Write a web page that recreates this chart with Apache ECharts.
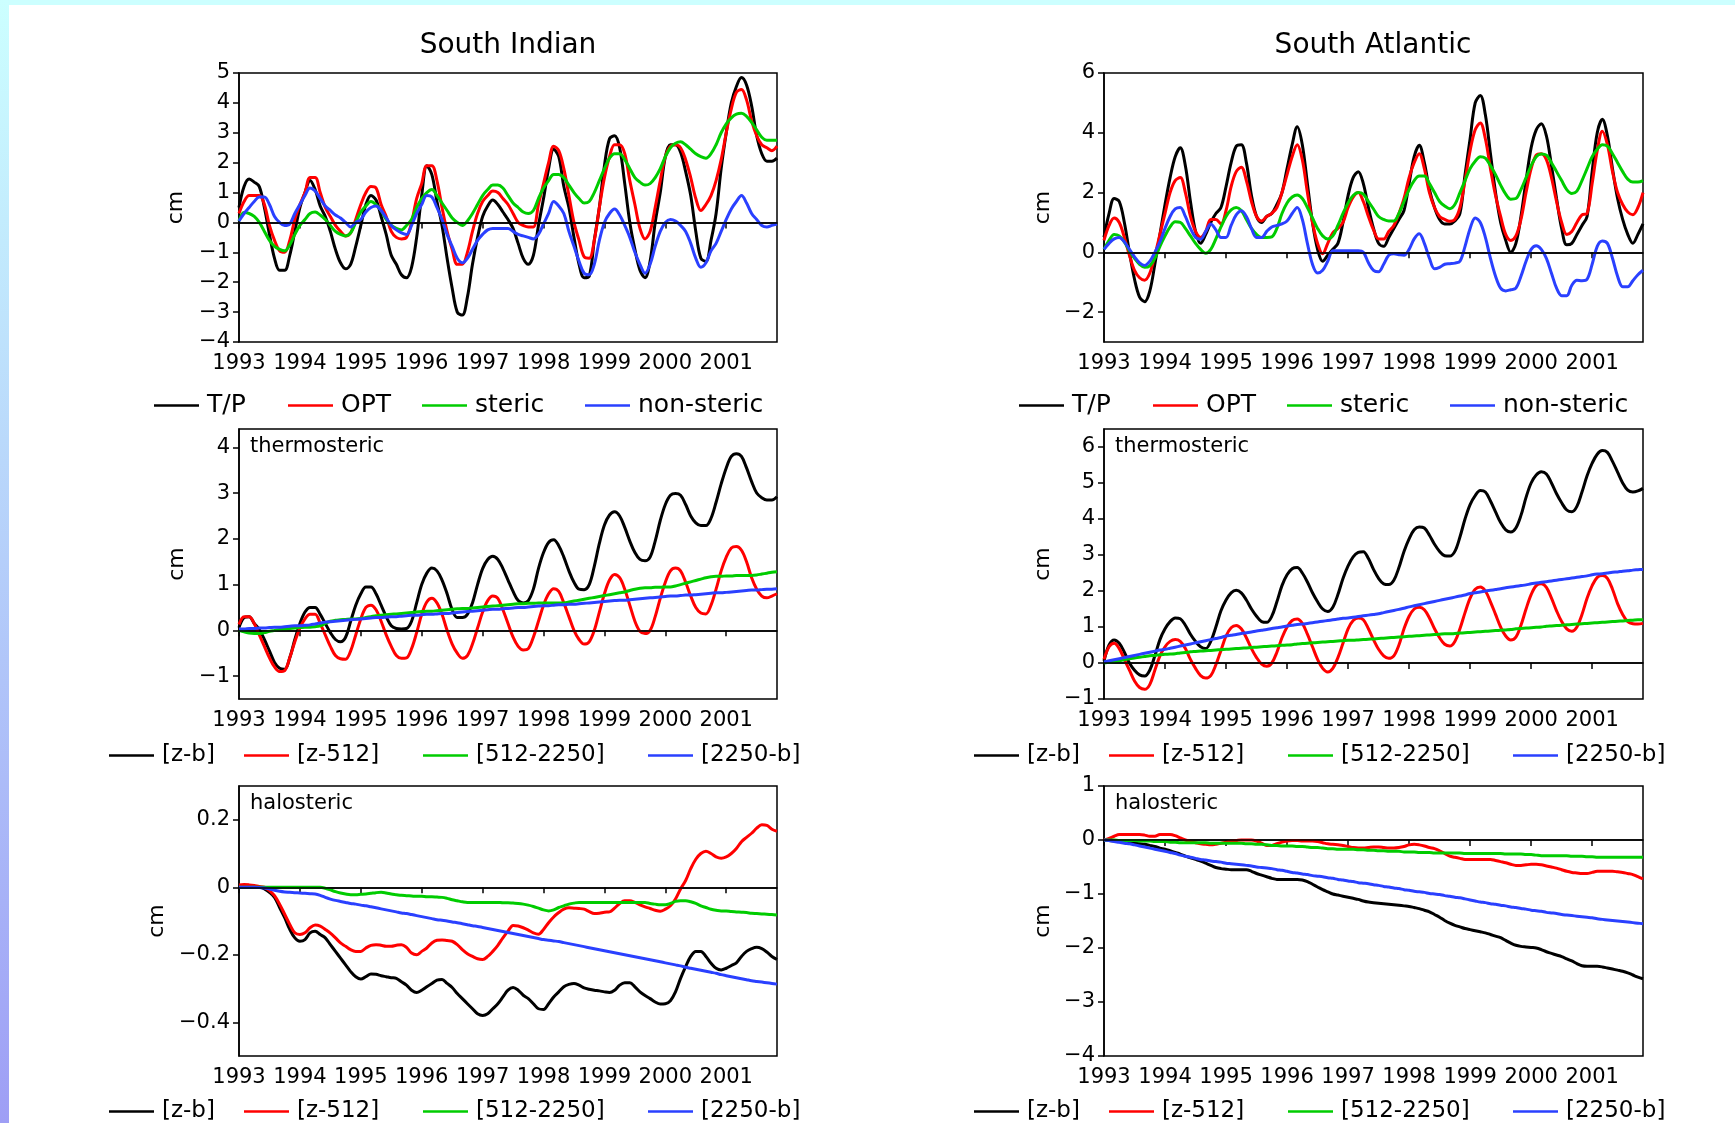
<!DOCTYPE html>
<html>
<head>
<meta charset="utf-8">
<script src="https://cdn.jsdelivr.net/npm/echarts@6/dist/echarts.min.js"></script>
<style>
  html, body { margin: 0; padding: 0; background: #fff; }
  #chart { width: 1735px; height: 1123px; }
</style>
</head>
<body>
<div id="chart"></div>
<script>
// monthly samples, Jan 1993 .. Nov 2001 (107 values, one row per year)
const years = [1993, 1994, 1995, 1996, 1997, 1998, 1999, 2000, 2001];
const months = Array.from({ length: 107 }, (_, i) => 1993 + i / 12);

const topNames = ['T/P', 'OPT', 'steric', 'non-steric'];
const layerNames = ['[z-b]', '[z-512]', '[512-2250]', '[2250-b]'];

// South Indian, sea level
const siTP = [
  0.5, 1.2, 1.45, 1.35, 1.2, 0.5, -0.4, -1.2, -1.6, -1.6, -1.1, -0.3,
  0.5, 1.0, 1.4, 1.1, 0.55, 0.2, -0.3, -0.9, -1.35, -1.55, -1.4, -0.8,
  -0.1, 0.6, 0.9, 0.75, 0.2, -0.4, -1.1, -1.4, -1.75, -1.85, -1.5, -0.5,
  0.9, 1.9, 1.6, 0.7, -0.1, -1.2, -2.2, -3.0, -3.1, -2.5, -1.4, -0.5,
  0.2, 0.55, 0.75, 0.6, 0.35, 0.1, -0.2, -0.7, -1.2, -1.4, -1.1, -0.1,
  0.8, 1.8, 2.45, 2.2, 1.2, 0.5, -0.5, -1.4, -1.85, -1.8, -0.6, 0.5,
  1.9, 2.8, 2.9, 2.5, 1.3, 0.0, -0.9, -1.6, -1.85, -1.3, 0.0, 1.0,
  2.2, 2.6, 2.6, 2.35, 1.7, 0.9, -0.3, -1.2, -1.3, -0.6, 0.3, 1.8,
  3.0, 4.0, 4.55, 4.85, 4.6, 3.9, 2.9, 2.3, 2.05, 2.05, 2.15
];
const siOPT = [
  0.3, 0.7, 0.9, 0.9, 0.9, 0.6, -0.1, -0.6, -0.95, -1.0, -0.6, 0.1,
  0.6, 1.0, 1.5, 1.5, 1.0, 0.5, 0.2, -0.1, -0.3, -0.45, -0.35, 0.1,
  0.6, 1.0, 1.2, 1.15, 0.6, 0.2, -0.3, -0.5, -0.55, -0.5, 0.0, 0.8,
  1.3, 1.9, 1.9, 1.4, 0.5, -0.3, -0.9, -1.4, -1.4, -1.0, -0.3, 0.3,
  0.7, 0.9, 1.05, 1.0, 0.8, 0.6, 0.3, 0.0, -0.1, -0.15, -0.15, 0.6,
  1.3, 2.0, 2.55, 2.4, 1.8, 0.9, 0.0, -0.6, -1.15, -1.2, -0.6, 0.5,
  1.5, 2.2, 2.6, 2.6, 2.3, 1.4, 0.6, -0.2, -0.55, -0.3, 0.5, 1.4,
  2.2, 2.55, 2.6, 2.5, 2.1, 1.5, 0.8, 0.4, 0.6, 0.9, 1.4, 2.1,
  3.0, 3.8, 4.35, 4.45, 4.1, 3.4, 2.9, 2.6, 2.5, 2.4, 2.55
];
const siSteric = [
  0.05, 0.33, 0.3, 0.2, 0.0, -0.3, -0.6, -0.8, -0.9, -0.95, -0.75, -0.4,
  -0.1, 0.1, 0.3, 0.35, 0.25, 0.1, -0.1, -0.3, -0.4, -0.45, -0.35, 0.0,
  0.35, 0.55, 0.7, 0.6, 0.4, 0.1, -0.1, -0.2, -0.25, -0.1, 0.1, 0.5,
  0.8, 1.0, 1.1, 0.9, 0.65, 0.4, 0.15, 0.0, -0.1, 0.05, 0.3, 0.6,
  0.9, 1.1, 1.25, 1.25, 1.15, 0.9, 0.65, 0.5, 0.35, 0.3, 0.4, 0.8,
  1.15, 1.4, 1.6, 1.6, 1.5, 1.25, 1.0, 0.8, 0.65, 0.7, 1.0, 1.4,
  1.8, 2.15, 2.3, 2.3, 2.1, 1.8, 1.5, 1.35, 1.25, 1.3, 1.5, 1.8,
  2.2, 2.5, 2.65, 2.7, 2.6, 2.45, 2.3, 2.2, 2.15, 2.3, 2.6, 3.0,
  3.3, 3.5, 3.62, 3.65, 3.55, 3.35, 3.1, 2.85, 2.75, 2.75, 2.75
];
const siNonSteric = [
  0.05, 0.3, 0.5, 0.7, 0.85, 0.85, 0.6, 0.2, 0.0, -0.1, -0.05, 0.3,
  0.6, 0.9, 1.15, 1.05, 0.8, 0.55, 0.4, 0.25, 0.15, 0.0, -0.15, 0.0,
  0.1, 0.35, 0.5, 0.55, 0.4, 0.15, -0.1, -0.25, -0.35, -0.4, -0.1, 0.3,
  0.6, 0.9, 0.85, 0.5, 0.1, -0.4, -0.8, -1.2, -1.35, -1.2, -0.9, -0.6,
  -0.4, -0.25, -0.2, -0.2, -0.2, -0.2, -0.3, -0.4, -0.45, -0.5, -0.55, -0.4,
  -0.05, 0.3, 0.7, 0.55, 0.3, -0.3, -0.8, -1.3, -1.7, -1.75, -1.4, -0.6,
  0.0, 0.3, 0.45, 0.25, -0.1, -0.5, -1.0, -1.4, -1.7, -1.4, -0.8, -0.3,
  0.0, 0.1, 0.05, -0.1, -0.3, -0.7, -1.2, -1.5, -1.35, -0.95, -0.7, -0.3,
  0.1, 0.45, 0.7, 0.9, 0.65, 0.3, 0.1, -0.1, -0.15, -0.1, -0.05
];

// South Atlantic, sea level
const saTP = [
  0.5, 1.3, 1.8, 1.7, 1.0, 0.0, -0.9, -1.5, -1.65, -1.3, -0.4, 0.6,
  1.6, 2.5, 3.2, 3.5, 2.9, 1.7, 0.7, 0.3, 0.6, 1.0, 1.3, 1.5,
  2.2, 3.0, 3.55, 3.6, 3.0, 1.9, 1.2, 1.0, 1.2, 1.3, 1.6, 2.0,
  2.8, 3.6, 4.2, 3.6, 2.3, 1.0, 0.1, -0.3, -0.1, 0.1, 0.3, 1.0,
  1.9, 2.5, 2.7, 2.3, 1.5, 0.8, 0.3, 0.2, 0.5, 0.8, 1.1, 1.4,
  2.3, 3.2, 3.58, 3.0, 2.1, 1.5, 1.1, 0.95, 0.95, 1.05, 1.3, 2.6,
  3.8, 5.0, 5.25, 4.6, 3.3, 2.0, 1.0, 0.4, 0.0, 0.3, 1.2, 2.4,
  3.5, 4.1, 4.3, 3.9, 2.9, 1.8, 0.8, 0.25, 0.3, 0.6, 0.9, 1.2,
  2.7, 4.0, 4.45, 3.9, 2.8, 1.8, 1.1, 0.6, 0.3, 0.6, 0.95
];
const saOPT = [
  0.4, 0.9, 1.15, 1.0, 0.5, -0.1, -0.6, -0.85, -0.93, -0.7, -0.1, 0.6,
  1.3, 2.0, 2.4, 2.5, 2.0, 1.2, 0.7, 0.5, 0.7, 1.1, 1.1, 0.95,
  1.4, 2.2, 2.7, 2.85, 2.4, 1.7, 1.2, 1.05, 1.2, 1.3, 1.5, 2.0,
  2.6, 3.2, 3.6, 3.1, 2.0, 1.0, 0.3, -0.05, 0.3, 0.65, 0.8, 1.0,
  1.5, 1.85, 2.0, 1.7, 1.2, 0.75, 0.45, 0.45, 0.7, 0.9, 1.3, 1.8,
  2.5, 3.0, 3.3, 2.8, 2.0, 1.5, 1.2, 1.1, 1.04, 1.1, 1.5, 2.4,
  3.4, 4.1, 4.33, 3.8, 2.8, 1.9, 1.2, 0.6, 0.4, 0.55, 1.1, 2.0,
  2.8, 3.25, 3.3, 3.1, 2.5, 1.7, 1.0, 0.6, 0.7, 1.0, 1.25, 1.3,
  2.3, 3.4, 4.05, 3.6, 2.7, 2.0, 1.6, 1.35, 1.26, 1.5, 2.0
];
const saSteric = [
  0.1, 0.4, 0.6, 0.55, 0.35, 0.05, -0.2, -0.4, -0.5, -0.45, -0.2, 0.2,
  0.55, 0.85, 1.02, 1.0, 0.8, 0.55, 0.3, 0.1, -0.03, 0.1, 0.45, 0.85,
  1.2, 1.42, 1.5, 1.4, 1.1, 0.8, 0.6, 0.5, 0.5, 0.52, 0.8, 1.3,
  1.65, 1.85, 1.92, 1.8, 1.5, 1.15, 0.8, 0.55, 0.45, 0.55, 0.9, 1.3,
  1.65, 1.9, 2.0, 1.95, 1.7, 1.45, 1.2, 1.1, 1.05, 1.05, 1.3, 1.7,
  2.1, 2.4, 2.55, 2.55, 2.3, 2.0, 1.7, 1.55, 1.46, 1.6, 2.0, 2.4,
  2.8, 3.05, 3.2, 3.15, 2.9, 2.6, 2.25, 1.95, 1.78, 1.8, 2.1, 2.5,
  2.9, 3.2, 3.29, 3.25, 3.0, 2.7, 2.4, 2.1, 1.97, 2.05, 2.4, 2.8,
  3.2, 3.45, 3.6, 3.55, 3.3, 3.0, 2.7, 2.45, 2.35, 2.35, 2.4
];
const saNonSteric = [
  0.1, 0.3, 0.45, 0.5, 0.35, 0.1, -0.15, -0.35, -0.44, -0.3, 0.0, 0.35,
  0.8, 1.2, 1.45, 1.5, 1.2, 0.8, 0.5, 0.44, 0.7, 0.95, 0.75, 0.5,
  0.5, 0.9, 1.25, 1.39, 1.2, 0.8, 0.5, 0.5, 0.7, 0.85, 0.9, 0.95,
  1.05, 1.3, 1.5, 1.1, 0.3, -0.4, -0.69, -0.6, -0.3, 0.05, 0.05, 0.05,
  0.05, 0.05, 0.05, 0.0, -0.35, -0.6, -0.65, -0.4, -0.1, -0.05, -0.08, -0.1,
  0.1, 0.45, 0.62, 0.3, -0.2, -0.55, -0.5, -0.4, -0.38, -0.36, -0.3, 0.2,
  0.8, 1.15, 1.0, 0.5, -0.2, -0.8, -1.2, -1.29, -1.25, -1.2, -0.8, -0.3,
  0.1, 0.22, 0.1, -0.2, -0.7, -1.2, -1.45, -1.45, -1.1, -0.93, -0.95, -0.9,
  -0.4, 0.2, 0.38, 0.3, -0.2, -0.8, -1.15, -1.15, -0.95, -0.75, -0.6
];

// South Indian, thermosteric by layer
const siThZb = [
  0.06, 0.28, 0.3, 0.15, 0.02, -0.2, -0.45, -0.7, -0.83, -0.85, -0.6, -0.2,
  0.15, 0.4, 0.5, 0.5, 0.35, 0.15, -0.05, -0.2, -0.25, -0.15, 0.2, 0.55,
  0.8, 0.95, 0.95, 0.8, 0.55, 0.3, 0.1, 0.04, 0.03, 0.04, 0.2, 0.6,
  1.0, 1.25, 1.36, 1.3, 1.1, 0.8, 0.45, 0.28, 0.28, 0.35, 0.6, 1.0,
  1.35, 1.55, 1.62, 1.55, 1.35, 1.1, 0.85, 0.65, 0.6, 0.65, 0.9, 1.35,
  1.7, 1.92, 1.98, 1.85, 1.6, 1.3, 1.05, 0.9, 0.89, 1.0, 1.4, 1.9,
  2.3, 2.52, 2.59, 2.5, 2.25, 1.95, 1.7, 1.55, 1.52, 1.6, 1.95, 2.4,
  2.75, 2.95, 2.99, 2.95, 2.75, 2.5, 2.35, 2.29, 2.29, 2.45, 2.8, 3.2,
  3.55, 3.8, 3.86, 3.8, 3.55, 3.25, 3.0, 2.9, 2.85, 2.85, 2.92
];
const siThZ512 = [
  0.13, 0.3, 0.3, 0.15, -0.1, -0.35, -0.6, -0.8, -0.9, -0.88, -0.6, -0.25,
  0.05, 0.25, 0.35, 0.35, 0.15, -0.1, -0.35, -0.55, -0.62, -0.63, -0.45, -0.1,
  0.25, 0.5, 0.55, 0.45, 0.2, -0.1, -0.35, -0.55, -0.61, -0.6, -0.4, -0.05,
  0.35, 0.62, 0.7, 0.6, 0.35, 0.0, -0.3, -0.5, -0.61, -0.55, -0.3, 0.05,
  0.4, 0.65, 0.75, 0.7, 0.45, 0.15, -0.15, -0.35, -0.43, -0.4, -0.15, 0.2,
  0.55, 0.8, 0.91, 0.85, 0.6, 0.3, 0.0, -0.2, -0.3, -0.25, 0.0, 0.4,
  0.8, 1.1, 1.22, 1.15, 0.9, 0.55, 0.2, -0.02, -0.07, 0.0, 0.3, 0.7,
  1.05, 1.3, 1.36, 1.3, 1.05, 0.75, 0.5, 0.38, 0.36, 0.55, 0.9, 1.3,
  1.6, 1.8, 1.83, 1.75, 1.5, 1.15, 0.9, 0.75, 0.71, 0.75, 0.8
];
const siTh5122250 = [
  0.0, -0.03, -0.06, -0.07, -0.07, -0.05, -0.02, 0.0, 0.02, 0.03, 0.04, 0.05,
  0.06, 0.07, 0.07, 0.08, 0.1, 0.15, 0.2, 0.22, 0.23, 0.24, 0.25, 0.25,
  0.26, 0.28, 0.3, 0.32, 0.33, 0.34, 0.35, 0.36, 0.37, 0.38, 0.39, 0.4,
  0.41, 0.42, 0.42, 0.43, 0.44, 0.45, 0.46, 0.47, 0.48, 0.48, 0.49, 0.5,
  0.51, 0.52, 0.53, 0.54, 0.55, 0.56, 0.57, 0.58, 0.58, 0.59, 0.59, 0.6,
  0.6, 0.6, 0.6, 0.6, 0.6, 0.62, 0.64, 0.66, 0.68, 0.7, 0.72, 0.74,
  0.76, 0.78, 0.8, 0.82, 0.84, 0.87, 0.9, 0.92, 0.93, 0.93, 0.94, 0.94,
  0.95, 0.95, 0.97, 1.0, 1.03, 1.06, 1.09, 1.12, 1.15, 1.17, 1.18, 1.18,
  1.19, 1.19, 1.2, 1.2, 1.2, 1.2, 1.21, 1.23, 1.25, 1.27, 1.28
];
const siTh2250b = [
  0.03, 0.03, 0.04, 0.04, 0.05, 0.05, 0.06, 0.07, 0.07, 0.08, 0.09, 0.1,
  0.1, 0.11, 0.12, 0.14, 0.16, 0.18, 0.19, 0.2, 0.21, 0.22, 0.23, 0.24,
  0.25, 0.26, 0.27, 0.28, 0.28, 0.29, 0.3, 0.3, 0.31, 0.32, 0.33, 0.33,
  0.34, 0.35, 0.35, 0.36, 0.37, 0.37, 0.38, 0.39, 0.4, 0.41, 0.42, 0.43,
  0.44, 0.45, 0.46, 0.46, 0.47, 0.48, 0.49, 0.5, 0.5, 0.51, 0.52, 0.53,
  0.54, 0.54, 0.55, 0.56, 0.56, 0.57, 0.57, 0.58, 0.59, 0.6, 0.61, 0.62,
  0.63, 0.64, 0.65, 0.66, 0.66, 0.67, 0.68, 0.69, 0.7, 0.71, 0.72, 0.73,
  0.74, 0.75, 0.75, 0.76, 0.77, 0.77, 0.78, 0.79, 0.8, 0.81, 0.82, 0.82,
  0.83, 0.84, 0.85, 0.86, 0.87, 0.88, 0.88, 0.89, 0.9, 0.9, 0.91
];

// South Atlantic, thermosteric by layer
const saThZb = [
  0.06, 0.5, 0.64, 0.55, 0.3, 0.0, -0.2, -0.33, -0.36, -0.2, 0.2, 0.65,
  0.95, 1.15, 1.25, 1.23, 1.05, 0.8, 0.6, 0.45, 0.4, 0.6, 1.0, 1.45,
  1.75, 1.95, 2.02, 1.95, 1.75, 1.5, 1.3, 1.15, 1.13, 1.3, 1.7, 2.15,
  2.45, 2.62, 2.65, 2.5, 2.25, 1.95, 1.7, 1.5, 1.43, 1.55, 1.9, 2.35,
  2.7, 2.95, 3.07, 3.09, 2.9, 2.6, 2.35, 2.2, 2.18, 2.3, 2.65, 3.1,
  3.45, 3.7, 3.78, 3.75, 3.55, 3.3, 3.1, 2.98, 2.97, 3.1, 3.5, 4.0,
  4.4, 4.65, 4.79, 4.75, 4.5, 4.2, 3.9, 3.7, 3.64, 3.75, 4.1, 4.6,
  5.0, 5.22, 5.31, 5.25, 5.0, 4.7, 4.45, 4.25, 4.2, 4.35, 4.75, 5.2,
  5.55, 5.8, 5.9, 5.85, 5.6, 5.3, 5.0, 4.8, 4.75, 4.78, 4.85
];
const saThZ512 = [
  0.1, 0.45, 0.55, 0.4, 0.1, -0.2, -0.5, -0.68, -0.73, -0.6, -0.2, 0.2,
  0.45, 0.6, 0.65, 0.6, 0.4, 0.1, -0.15, -0.35, -0.42, -0.35, -0.05, 0.35,
  0.75, 0.98, 1.04, 0.95, 0.7, 0.4, 0.15, -0.03, -0.09, 0.0, 0.3, 0.7,
  1.0, 1.18, 1.22, 1.1, 0.8, 0.45, 0.1, -0.15, -0.25, -0.15, 0.15, 0.55,
  0.95, 1.18, 1.25, 1.2, 0.95, 0.65, 0.38, 0.2, 0.13, 0.2, 0.5, 0.95,
  1.3, 1.5, 1.55, 1.48, 1.25, 0.95, 0.7, 0.52, 0.47, 0.6, 0.95, 1.4,
  1.8, 2.05, 2.11, 2.0, 1.7, 1.35, 1.0, 0.75, 0.64, 0.72, 1.05, 1.5,
  1.9, 2.15, 2.2, 2.1, 1.8, 1.45, 1.15, 0.95, 0.88, 1.0, 1.35, 1.8,
  2.15, 2.38, 2.43, 2.35, 2.05, 1.65, 1.35, 1.15, 1.09, 1.08, 1.1
];
const saTh5122250 = [
  0.0, 0.02, 0.04, 0.06, 0.09, 0.12, 0.14, 0.16, 0.18, 0.2, 0.21, 0.23,
  0.24, 0.25, 0.26, 0.28, 0.29, 0.31, 0.32, 0.33, 0.34, 0.35, 0.36, 0.37,
  0.38, 0.39, 0.4, 0.41, 0.42, 0.43, 0.44, 0.45, 0.46, 0.47, 0.48, 0.49,
  0.5, 0.51, 0.53, 0.54, 0.55, 0.56, 0.57, 0.58, 0.59, 0.6, 0.61, 0.62,
  0.63, 0.63, 0.64, 0.65, 0.66, 0.67, 0.68, 0.69, 0.7, 0.71, 0.72, 0.73,
  0.74, 0.75, 0.76, 0.77, 0.78, 0.79, 0.8, 0.81, 0.81, 0.82, 0.83, 0.84,
  0.85, 0.86, 0.87, 0.88, 0.89, 0.9, 0.91, 0.92, 0.93, 0.95, 0.96, 0.97,
  0.98, 0.99, 1.0, 1.02, 1.03, 1.04, 1.05, 1.06, 1.07, 1.08, 1.09, 1.1,
  1.11, 1.12, 1.13, 1.14, 1.15, 1.16, 1.17, 1.18, 1.19, 1.2, 1.2
];
const saTh2250b = [
  0.03, 0.06, 0.09, 0.12, 0.15, 0.18, 0.21, 0.24, 0.27, 0.3, 0.33, 0.36,
  0.38, 0.41, 0.44, 0.47, 0.5, 0.53, 0.56, 0.59, 0.62, 0.65, 0.68, 0.71,
  0.75, 0.77, 0.79, 0.82, 0.84, 0.86, 0.89, 0.91, 0.93, 0.96, 0.98, 1.0,
  1.03, 1.05, 1.07, 1.08, 1.1, 1.12, 1.14, 1.16, 1.18, 1.2, 1.22, 1.24,
  1.25, 1.27, 1.29, 1.31, 1.33, 1.35, 1.37, 1.4, 1.43, 1.46, 1.49, 1.52,
  1.56, 1.59, 1.62, 1.65, 1.68, 1.71, 1.74, 1.77, 1.8, 1.83, 1.86, 1.89,
  1.93, 1.95, 1.97, 2.0, 2.02, 2.04, 2.06, 2.09, 2.11, 2.13, 2.15, 2.17,
  2.2, 2.22, 2.24, 2.26, 2.28, 2.3, 2.32, 2.34, 2.36, 2.38, 2.4, 2.42,
  2.45, 2.47, 2.48, 2.5, 2.52, 2.53, 2.55, 2.56, 2.58, 2.59, 2.6
];

// South Indian, halosteric by layer
const siHaZb = [
  0.0, 0.0, 0.0, 0.0, 0.0, -0.005, -0.015, -0.03, -0.06, -0.09, -0.125, -0.15,
  -0.16, -0.155, -0.135, -0.13, -0.14, -0.15, -0.17, -0.19, -0.21, -0.23, -0.25, -0.265,
  -0.272, -0.265, -0.257, -0.258, -0.262, -0.265, -0.268, -0.27, -0.28, -0.29, -0.305, -0.312,
  -0.305, -0.295, -0.285, -0.275, -0.273, -0.285, -0.297, -0.315, -0.33, -0.345, -0.36, -0.375,
  -0.38, -0.375, -0.36, -0.345, -0.325, -0.305, -0.297, -0.305, -0.32, -0.33, -0.345, -0.36,
  -0.362, -0.345, -0.325, -0.31, -0.295, -0.288, -0.285, -0.29, -0.298, -0.302, -0.305, -0.307,
  -0.31, -0.312, -0.305, -0.29, -0.283, -0.283, -0.295, -0.31, -0.321, -0.33, -0.34, -0.346,
  -0.345, -0.336, -0.31, -0.27, -0.235, -0.205, -0.19, -0.19, -0.205, -0.225, -0.24, -0.245,
  -0.24, -0.232, -0.224, -0.205, -0.19, -0.182, -0.178, -0.182, -0.192, -0.205, -0.214
];
const siHaZ512 = [
  0.007, 0.008, 0.007, 0.005, 0.002, 0.0, -0.01, -0.025, -0.05, -0.08, -0.11, -0.135,
  -0.14, -0.135, -0.12, -0.112, -0.115, -0.125, -0.136, -0.15, -0.165, -0.175, -0.185, -0.19,
  -0.19, -0.18, -0.172, -0.17, -0.172, -0.175, -0.175, -0.172, -0.17, -0.178, -0.195, -0.2,
  -0.19, -0.18, -0.165, -0.157, -0.156, -0.158, -0.16, -0.17, -0.185, -0.197, -0.205, -0.212,
  -0.214, -0.205, -0.19, -0.172, -0.15, -0.13, -0.113, -0.115, -0.12, -0.127, -0.135, -0.139,
  -0.125, -0.105, -0.088, -0.075, -0.065, -0.061, -0.062, -0.063, -0.065, -0.072, -0.078, -0.077,
  -0.074, -0.073, -0.062, -0.048, -0.04, -0.04, -0.045, -0.052, -0.058, -0.063, -0.068, -0.071,
  -0.065, -0.055, -0.035, -0.005, 0.02, 0.055, 0.083, 0.1, 0.107, 0.1, 0.09, 0.086,
  0.09, 0.1, 0.115, 0.135, 0.148, 0.16, 0.175, 0.185, 0.183, 0.172, 0.166
];
const siHa5122250 = [
  0, 0, 0, 0, 0, 0, 0, 0, 0, 0, 0, 0,
  0, 0, 0, 0, 0, -0.003, -0.008, -0.013, -0.017, -0.02, -0.022, -0.022,
  -0.021, -0.02, -0.018, -0.016, -0.015, -0.017, -0.02, -0.022, -0.024, -0.025, -0.026, -0.027,
  -0.027, -0.028, -0.028, -0.029, -0.03, -0.033, -0.037, -0.04, -0.043, -0.045, -0.045, -0.045,
  -0.045, -0.045, -0.045, -0.045, -0.046, -0.046, -0.047, -0.048, -0.05, -0.053, -0.057, -0.062,
  -0.067, -0.07, -0.067, -0.06, -0.055, -0.05, -0.047, -0.045, -0.045, -0.045, -0.045, -0.045,
  -0.045, -0.045, -0.045, -0.045, -0.045, -0.045, -0.045, -0.045, -0.045, -0.048, -0.05, -0.052,
  -0.052, -0.048, -0.042, -0.04, -0.04, -0.043, -0.048, -0.055, -0.06, -0.065, -0.068, -0.07,
  -0.07, -0.072, -0.073, -0.074, -0.075, -0.077, -0.078, -0.079, -0.08, -0.081, -0.082
];
const siHa2250b = [
  0.0, 0.0, 0.0, 0.0, -0.001, -0.002, -0.005, -0.009, -0.012, -0.014, -0.015, -0.016,
  -0.017, -0.018, -0.019, -0.02, -0.024, -0.03, -0.035, -0.039, -0.042, -0.045, -0.048, -0.05,
  -0.053, -0.055, -0.058, -0.061, -0.064, -0.067, -0.07, -0.073, -0.076, -0.078, -0.081, -0.084,
  -0.087, -0.09, -0.093, -0.096, -0.098, -0.1, -0.103, -0.105, -0.108, -0.111, -0.114, -0.116,
  -0.119, -0.122, -0.125, -0.128, -0.131, -0.134, -0.137, -0.14, -0.143, -0.146, -0.149, -0.152,
  -0.155, -0.157, -0.159, -0.161, -0.164, -0.167, -0.17, -0.173, -0.176, -0.179, -0.182, -0.185,
  -0.188, -0.191, -0.194, -0.197, -0.2, -0.203, -0.206, -0.209, -0.212, -0.215, -0.218, -0.221,
  -0.224, -0.227, -0.23, -0.233, -0.237, -0.24, -0.243, -0.246, -0.249, -0.252, -0.255, -0.259,
  -0.262, -0.265, -0.268, -0.271, -0.274, -0.277, -0.279, -0.281, -0.283, -0.285, -0.287
];

// South Atlantic, halosteric by layer
const saHaZb = [
  0.0, -0.01, -0.02, -0.03, -0.04, -0.05, -0.06, -0.07, -0.08, -0.1, -0.12, -0.15,
  -0.17, -0.2, -0.23, -0.26, -0.3, -0.33, -0.36, -0.39, -0.43, -0.47, -0.51, -0.53,
  -0.54, -0.55, -0.55, -0.55, -0.55, -0.58, -0.62, -0.65, -0.68, -0.71, -0.73, -0.73,
  -0.73, -0.73, -0.73, -0.74, -0.77, -0.82, -0.87, -0.92, -0.96, -1.0, -1.02, -1.04,
  -1.06, -1.08, -1.1, -1.13, -1.15, -1.16, -1.17, -1.18, -1.19, -1.2, -1.21, -1.22,
  -1.23, -1.25, -1.27, -1.3, -1.33, -1.38, -1.43, -1.49, -1.54, -1.58, -1.61, -1.64,
  -1.66, -1.68, -1.7, -1.72, -1.75, -1.78, -1.81, -1.86, -1.91, -1.95, -1.97, -1.98,
  -1.99, -2.0, -2.03, -2.07, -2.1, -2.13, -2.16, -2.2, -2.24, -2.29, -2.33, -2.34,
  -2.34, -2.34, -2.35, -2.37, -2.39, -2.41, -2.43, -2.46, -2.5, -2.54, -2.57
];
const saHaZ512 = [
  0.0, 0.03, 0.07, 0.1, 0.1, 0.1, 0.1, 0.1, 0.09, 0.07, 0.07, 0.1,
  0.1, 0.1, 0.08, 0.04, 0.0, -0.03, -0.05, -0.07, -0.08, -0.09, -0.08, -0.06,
  -0.04, -0.02, -0.01, 0.0, 0.0, 0.0, -0.02, -0.06, -0.1, -0.1, -0.07, -0.04,
  -0.02, -0.01, -0.01, -0.02, -0.02, -0.02, -0.03, -0.05, -0.07, -0.08, -0.09, -0.1,
  -0.12, -0.14, -0.15, -0.15, -0.14, -0.13, -0.13, -0.14, -0.15, -0.15, -0.14, -0.12,
  -0.09, -0.08, -0.09, -0.11, -0.14, -0.16, -0.2, -0.25, -0.3, -0.32, -0.34, -0.36,
  -0.36, -0.36, -0.36, -0.36, -0.36, -0.38, -0.4, -0.42, -0.45, -0.47, -0.47, -0.46,
  -0.45, -0.45, -0.46, -0.48, -0.5, -0.52, -0.55, -0.58, -0.6, -0.61, -0.62, -0.62,
  -0.6, -0.58, -0.58, -0.58, -0.58, -0.59, -0.6, -0.62, -0.64, -0.68, -0.72
];
const saHa5122250 = [
  0.0, 0.0, 0.0, -0.01, -0.01, -0.01, -0.01, -0.02, -0.02, -0.02, -0.03, -0.03,
  -0.03, -0.04, -0.04, -0.05, -0.05, -0.05, -0.05, -0.05, -0.05, -0.06, -0.06, -0.06,
  -0.06, -0.06, -0.06, -0.06, -0.07, -0.07, -0.08, -0.08, -0.09, -0.1, -0.1, -0.11,
  -0.11, -0.11, -0.12, -0.12, -0.13, -0.14, -0.14, -0.15, -0.16, -0.16, -0.17, -0.17,
  -0.17, -0.17, -0.18, -0.18, -0.19, -0.19, -0.2, -0.2, -0.21, -0.21, -0.21, -0.22,
  -0.22, -0.22, -0.23, -0.23, -0.23, -0.24, -0.24, -0.24, -0.24, -0.24, -0.24, -0.25,
  -0.25, -0.25, -0.25, -0.25, -0.25, -0.25, -0.25, -0.26, -0.26, -0.26, -0.26, -0.27,
  -0.27, -0.28, -0.29, -0.29, -0.29, -0.29, -0.29, -0.29, -0.3, -0.3, -0.3, -0.31,
  -0.31, -0.32, -0.32, -0.32, -0.32, -0.32, -0.32, -0.32, -0.32, -0.32, -0.32
];
const saHa2250b = [
  0.0, -0.01, -0.03, -0.04, -0.06, -0.07, -0.09, -0.11, -0.13, -0.15, -0.17, -0.19,
  -0.21, -0.23, -0.25, -0.28, -0.3, -0.32, -0.34, -0.36, -0.37, -0.39, -0.4, -0.41,
  -0.43, -0.44, -0.45, -0.46, -0.47, -0.48, -0.5, -0.51, -0.52, -0.53, -0.55, -0.56,
  -0.58, -0.6, -0.61, -0.63, -0.64, -0.66, -0.67, -0.68, -0.7, -0.71, -0.73, -0.74,
  -0.76, -0.77, -0.79, -0.8, -0.81, -0.83, -0.84, -0.86, -0.87, -0.89, -0.9, -0.92,
  -0.93, -0.95, -0.96, -0.97, -0.99, -1.0, -1.01, -1.03, -1.04, -1.06, -1.07, -1.09,
  -1.11, -1.13, -1.15, -1.16, -1.18, -1.19, -1.21, -1.22, -1.24, -1.25, -1.27, -1.28,
  -1.3, -1.31, -1.32, -1.34, -1.35, -1.36, -1.38, -1.39, -1.4, -1.41, -1.42, -1.43,
  -1.44, -1.46, -1.47, -1.48, -1.49, -1.5, -1.51, -1.52, -1.53, -1.54, -1.55
];

// y tick labels per panel
const siTopTicks = [-4, -3, -2, -1, 0, 1, 2, 3, 4, 5];
const saTopTicks = [-2, 0, 2, 4, 6];
const siThTicks = [-1, 0, 1, 2, 3, 4];
const saThTicks = [-1, 0, 1, 2, 3, 4, 5, 6];
const siHaTicks = [-0.4, -0.2, 0, 0.2];
const saHaTicks = [-4, -3, -2, -1, 0, 1];

const COLORS = ['#000000', '#ff0000', '#00cc00', '#2a40ff'];
const FONT = '"DejaVu Sans", sans-serif';

const panels = [
  { box: [239, 73, 538, 269], min: -4, max: 5, ticks: siTopTicks, gap: 52, names: topNames,
    data: [siTP, siOPT, siSteric, siNonSteric] },
  { box: [1104, 73, 539, 269], min: -3, max: 6, ticks: saTopTicks, gap: 50, names: topNames,
    data: [saTP, saOPT, saSteric, saNonSteric] },
  { box: [239, 429, 538, 270], min: -1.5, max: 4.4, ticks: siThTicks, gap: 51, names: layerNames,
    data: [siThZb, siThZ512, siTh5122250, siTh2250b], tag: 'thermosteric' },
  { box: [1104, 429, 539, 270], min: -1, max: 6.5, ticks: saThTicks, gap: 50, names: layerNames,
    data: [saThZb, saThZ512, saTh5122250, saTh2250b], tag: 'thermosteric' },
  { box: [239, 786, 538, 270], min: -0.5, max: 0.3, ticks: siHaTicks, gap: 71, names: layerNames,
    data: [siHaZb, siHaZ512, siHa5122250, siHa2250b], tag: 'halosteric' },
  { box: [1104, 786, 539, 270], min: -4, max: 1, ticks: saHaTicks, gap: 50, names: layerNames,
    data: [saHaZb, saHaZ512, saHa5122250, saHa2250b], tag: 'halosteric' }
];

const fmtNum = v => String(Math.round(v * 1000) / 1000).replace('-', '\u2212');

const grids = [], xAxes = [], yAxes = [], series = [];
panels.forEach((p, i) => {
  grids.push({
    left: p.box[0], top: p.box[1], width: p.box[2], height: p.box[3],
    show: true, borderColor: '#000', borderWidth: 1.5, backgroundColor: 'transparent'
  });
  xAxes.push({
    gridIndex: i, type: 'value', min: 1993, max: 1993 + 106 / 12, interval: 1,
    axisLine: { show: true, lineStyle: { color: '#000', width: 1.5 } },
    axisTick: { show: true, inside: false, length: 6, customValues: years,
                lineStyle: { color: '#000', width: 1.5 } },
    axisLabel: { customValues: years, margin: 11, fontSize: 21, fontFamily: FONT, color: '#000',
                 formatter: v => (Number.isInteger(v) ? String(v) : '') },
    splitLine: { show: false }
  });
  yAxes.push({
    gridIndex: i, type: 'value', min: p.min, max: p.max,
    name: 'cm', nameLocation: 'middle', nameRotate: 90, nameGap: p.gap,
    nameTextStyle: { fontSize: 22, fontFamily: FONT, color: '#000' },
    axisLine: { show: true, onZero: false, lineStyle: { color: '#000', width: 1.5 } },
    axisTick: { show: true, inside: false, length: 6, customValues: p.ticks,
                lineStyle: { color: '#000', width: 1.5 } },
    axisLabel: { customValues: p.ticks, margin: 9, fontSize: 21, fontFamily: FONT, color: '#000',
                 formatter: fmtNum },
    splitLine: { show: false }
  });
  p.data.forEach((vals, k) => {
    const s = {
      type: 'line', name: p.names[k], xAxisIndex: i, yAxisIndex: i,
      data: vals.map((v, j) => [months[j], v]),
      showSymbol: false, symbol: 'none', smooth: 0.35, silent: true,
      color: COLORS[k], lineStyle: { color: COLORS[k], width: 3 },
      animation: false
    };
    if (k === 0) {
      s.markLine = {
        silent: true, symbol: ['none', 'none'], animation: false,
        label: { show: false },
        lineStyle: { color: '#000', width: 1.5, type: 'solid' },
        data: [{ yAxis: 0 }]
      };
    }
    series.push(s);
  });
});

// legends: one component per entry so spacing follows the picture
const legendRows = [
  { names: topNames,   xs: [149, 283, 417, 580],     top: 388,  size: 25 },
  { names: topNames,   xs: [1014, 1148, 1282, 1445], top: 388,  size: 25 },
  { names: layerNames, xs: [104, 239, 418, 643],     top: 739,  size: 23 },
  { names: layerNames, xs: [969, 1104, 1283, 1508],  top: 739,  size: 23 },
  { names: layerNames, xs: [104, 239, 418, 643],     top: 1095, size: 23 },
  { names: layerNames, xs: [969, 1104, 1283, 1508],  top: 1095, size: 23 }
];
const legends = [];
legendRows.forEach(row => {
  row.names.forEach((n, k) => {
    legends.push({
      data: [{ name: n, icon: 'rect' }],
      left: row.xs[k], top: row.top, orient: 'horizontal',
      itemWidth: 45, itemHeight: 2.5, itemGap: 0, selectedMode: false,
      itemStyle: { color: COLORS[k], borderWidth: 0 },
      textStyle: { fontSize: row.size, fontFamily: FONT, color: '#000', padding: [0, 0, 0, 3] }
    });
  });
});

const graphics = [
  { type: 'rect', shape: { x: 0, y: 0, width: 1735, height: 5 }, style: { fill: '#ccffff' }, silent: true },
  { type: 'rect', shape: { x: 0, y: 0, width: 9, height: 1123 }, silent: true,
    style: { fill: new echarts.graphic.LinearGradient(0, 0, 0, 1, [
      { offset: 0, color: '#ccffff' }, { offset: 1, color: '#9e9ef5' }]) } },
  { type: 'text', x: 508, y: 46, silent: true,
    style: { text: 'South Indian', font: '28px ' + FONT, fill: '#000', align: 'center', verticalAlign: 'middle' } },
  { type: 'text', x: 1373, y: 46, silent: true,
    style: { text: 'South Atlantic', font: '28px ' + FONT, fill: '#000', align: 'center', verticalAlign: 'middle' } }
];
panels.forEach(p => {
  if (!p.tag) return;
  graphics.push({
    type: 'text', x: p.box[0] + 11, y: p.box[1] + 18, silent: true, z: 10,
    style: { text: p.tag, font: '21px ' + FONT, fill: '#000', align: 'left', verticalAlign: 'middle' }
  });
});

const chart = echarts.init(document.getElementById('chart'), null, { renderer: 'canvas' });
chart.setOption({
  backgroundColor: '#ffffff',
  animation: false,
  grid: grids,
  xAxis: xAxes,
  yAxis: yAxes,
  legend: legends,
  graphic: graphics,
  series: series
});
</script>
</body>
</html>
